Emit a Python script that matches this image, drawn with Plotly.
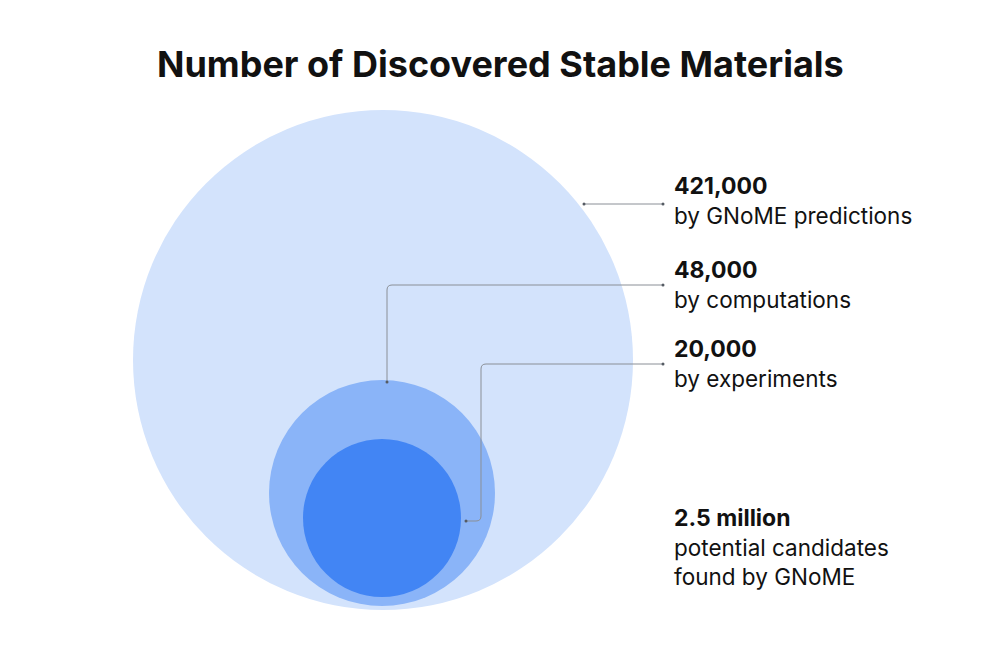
import plotly.graph_objects as go

# ---- data ----
categories = ["by GNoME predictions", "by computations", "by experiments"]
values = ["421,000", "48,000", "20,000"]
candidates_value = "2.5 million"
candidates_text = ["potential candidates", "found by GNoME"]
title = "Number of Discovered Stable Materials"

# ---- layout constants (pixel-like coordinate system) ----
W, H = 1000, 653
circle_colors = ["#D3E3FC", "#8AB4F8", "#4285F4"]
circle_centers = [(383, 360), (382, 493), (382, 518)]
circle_radii = [250, 113, 79]
label_x = 672
label_y = [186, 270, 349]
cand_y = 518
line_gap = 29
line_color = "#8a8f96"
FONT = "Inter"

fig = go.Figure()
fig.add_trace(go.Scatter(x=[0, W], y=[0, H], mode="markers",
                         marker=dict(opacity=0), hoverinfo="skip", showlegend=False))

shapes = []
for (cx, cy), r, c in zip(circle_centers, circle_radii, circle_colors):
    shapes.append(dict(type="circle", xref="x", yref="y", x0=cx - r, x1=cx + r,
                       y0=cy - r, y1=cy + r, fillcolor=c, line=dict(width=0), layer="below"))

# connectors
rc = 5
paths = [
    f"M 663 204 L 584 204",
    f"M 663 285 L {387+rc} 285 Q 387 285 387 {285+rc} L 387 382",
    f"M 663 364 L {481+rc} 364 Q 481 364 481 {364+rc} L 481 {521-rc} Q 481 521 {481-rc} 521 L 466 521",
]
for p in paths:
    shapes.append(dict(type="path", xref="x", yref="y", path=p,
                       line=dict(color=line_color, width=1)))
dots = [(663, 204), (584, 204), (663, 285), (387, 382), (663, 364), (466, 521)]
for dx, dy in dots:
    shapes.append(dict(type="circle", xref="x", yref="y", x0=dx - 1.5, x1=dx + 1.5,
                       y0=dy - 1.5, y1=dy + 1.5, fillcolor="#555b63", line=dict(width=0)))

annotations = [dict(x=500, y=64, xref="x", yref="y", text=f"<b>{title}</b>", showarrow=False,
                    font=dict(family=FONT, size=36, color="#111111"), xanchor="center", yanchor="middle")]
for v, c, y in zip(values, categories, label_y):
    annotations.append(dict(x=label_x, y=y, xref="x", yref="y", text=f"<b>{v}</b>", showarrow=False,
                            font=dict(family=FONT, size=23, color="#111111"), xanchor="left", yanchor="middle"))
    annotations.append(dict(x=label_x, y=y + line_gap, xref="x", yref="y", text=c, showarrow=False,
                            font=dict(family=FONT, size=22.5, color="#111111"), xanchor="left", yanchor="middle"))
annotations.append(dict(x=label_x, y=cand_y, xref="x", yref="y", text=f"<b>{candidates_value}</b>",
                        showarrow=False, font=dict(family=FONT, size=23, color="#111111"),
                        xanchor="left", yanchor="middle"))
for i, t in enumerate(candidates_text):
    annotations.append(dict(x=label_x, y=cand_y + line_gap * (i + 1), xref="x", yref="y", text=t,
                            showarrow=False, font=dict(family=FONT, size=22.5, color="#111111"),
                            xanchor="left", yanchor="middle"))

fig.update_layout(
    width=W, height=H, margin=dict(l=0, r=0, t=0, b=0),
    paper_bgcolor="white", plot_bgcolor="white",
    xaxis=dict(range=[0, W], visible=False, fixedrange=True),
    yaxis=dict(range=[H, 0], visible=False, fixedrange=True),
    shapes=shapes, annotations=annotations, showlegend=False,
)
fig.write_html("out.html")
